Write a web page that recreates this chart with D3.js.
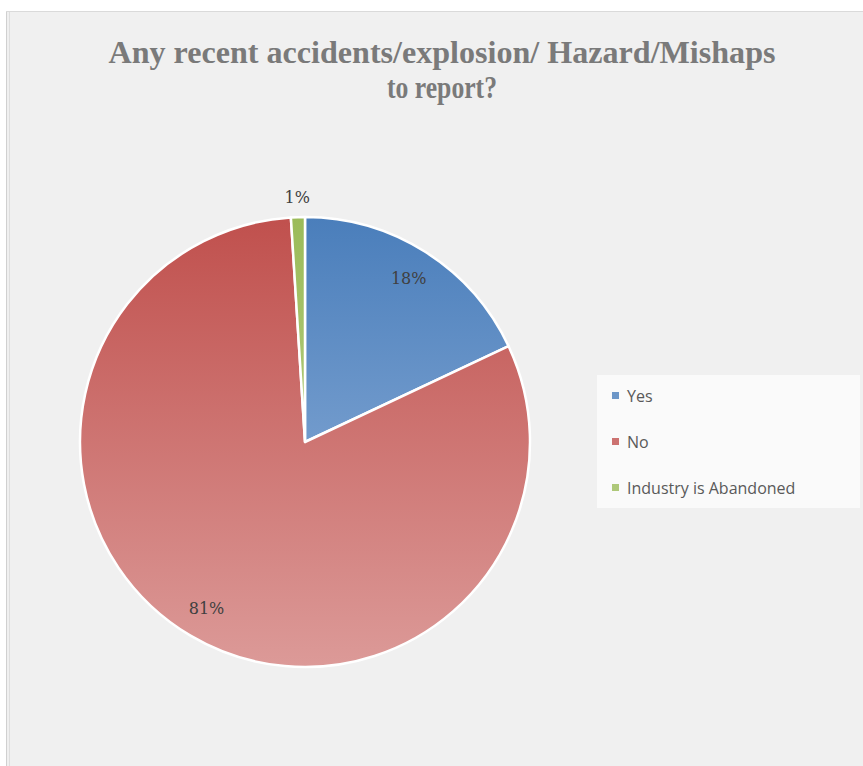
<!DOCTYPE html>
<html><head><meta charset="utf-8">
<script src="https://cdn.jsdelivr.net/npm/d3@7"></script>
<style>body{margin:0;background:#fff;}svg{display:block;}</style>
</head><body>
<script>
const categories = ["Yes", "No", "Industry is Abandoned"];
const values = [18, 81, 1];
const labels = ["18%", "81%", "1%"];
const titleLines = ["Any recent accidents/explosion/ Hazard/Mishaps", "to report?"];
const topColors = ["#4a7ebb", "#c0504d", "#9bbb59"];
const bottomColors = ["#9ab8de", "#dc9a98", "#c4d89a"];

const W = 863, H = 766;
const svg = d3.select("body").append("svg").attr("width", W).attr("height", H);
const defs = svg.append("defs");

// panel
svg.append("rect").attr("x", 6).attr("y", 11).attr("width", W - 6).attr("height", H - 11).attr("fill", "#f0f0f0");
svg.append("line").attr("x1", 6.5).attr("x2", 6.5).attr("y1", 11).attr("y2", H).attr("stroke", "#d0d0d0");
svg.append("line").attr("x1", 9.5).attr("x2", 9.5).attr("y1", 11).attr("y2", H).attr("stroke", "#dedede");
svg.append("line").attr("x1", 6).attr("x2", W).attr("y1", 11.5).attr("y2", 11.5).attr("stroke", "#dadada");

// title
const title = svg.append("g").attr("fill", "#7a7a7a").attr("font-family", "Liberation Serif, serif").attr("font-weight", "bold").attr("font-size", 31).attr("text-anchor", "middle");
title.append("text").attr("x", 442).attr("y", 63).attr("textLength", 667).attr("lengthAdjust", "spacingAndGlyphs").text(titleLines[0]);
title.append("text").attr("x", 442).attr("y", 98).attr("textLength", 110).attr("lengthAdjust", "spacingAndGlyphs").text(titleLines[1]);

// pie
const cx = 305, cy = 442, R = 225;
categories.forEach((c, i) => {
  const g = defs.append("linearGradient").attr("id", "g" + i).attr("gradientUnits", "userSpaceOnUse")
    .attr("x1", 0).attr("y1", -R).attr("x2", 0).attr("y2", R);
  g.append("stop").attr("offset", 0).attr("stop-color", topColors[i]);
  g.append("stop").attr("offset", 1).attr("stop-color", bottomColors[i]);
});
const pie = d3.pie().sort(null).value(d => d)(values);
const arc = d3.arc().innerRadius(0).outerRadius(R);
const pg = svg.append("g").attr("transform", `translate(${cx},${cy})`);
pg.selectAll("path").data(pie).join("path")
  .attr("d", d => arc(d))
  .attr("fill", (d, i) => `url(#g${i})`)
  .attr("stroke", "#fff").attr("stroke-width", 2.5).attr("stroke-linejoin", "round");

// labels
const labelArc = d3.arc().innerRadius(R * 0.86).outerRadius(R * 0.86);
const lab = svg.append("g").attr("font-family", "DejaVu Serif, serif").attr("font-size", 16).attr("fill", "#404040").attr("text-anchor", "middle");
pie.forEach((d, i) => {
  let x, y;
  if (i === 2) {
    const a = (d.startAngle + d.endAngle) / 2;
    x = cx + Math.sin(a) * (R + 20); y = cy - Math.cos(a) * (R + 20);
  } else {
    [x, y] = labelArc.centroid(d); x += cx; y += cy;
  }
  lab.append("text").attr("x", x).attr("y", y).attr("dy", "0.35em").text(labels[i]);
});

// legend
const lg = svg.append("g");
lg.append("rect").attr("x", 597).attr("y", 375).attr("width", 263).attr("height", 133).attr("fill", "#fafafa");
categories.forEach((c, i) => {
  const y = 396 + i * 46;
  lg.append("rect").attr("x", 612).attr("y", y - 4).attr("width", 7).attr("height", 7).attr("fill", topColors[i]).attr("opacity", 0.8);
  lg.append("text").attr("x", 627).attr("y", y).attr("dy", "0.35em").attr("font-family", "Open Sans, sans-serif").attr("font-size", 16).attr("fill", "#595959").text(c);
});
</script>
</body></html>
